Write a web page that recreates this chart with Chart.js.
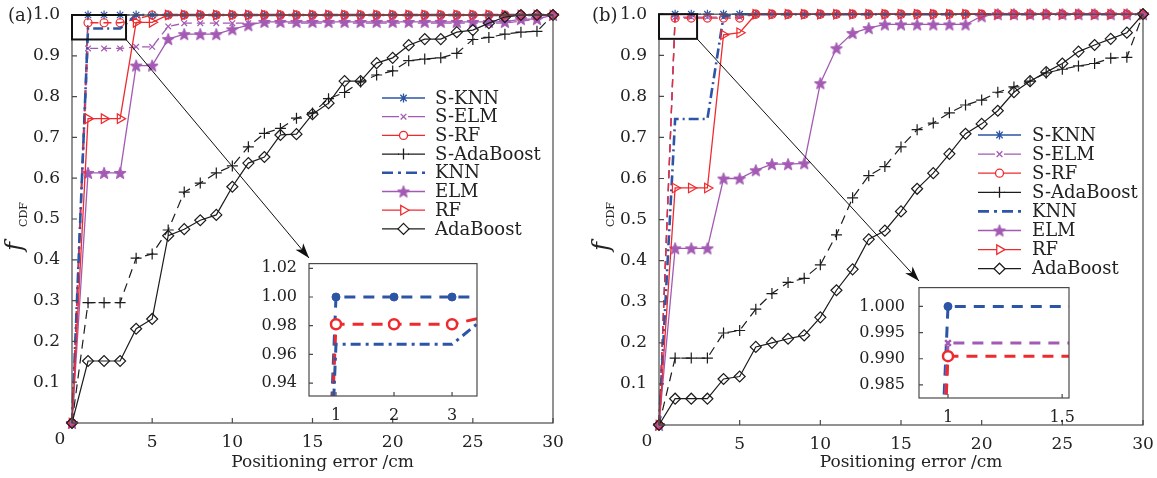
<!DOCTYPE html>
<html>
<head>
<meta charset="utf-8">
<script src="https://cdn.jsdelivr.net/npm/chart.js@4.4.1/dist/chart.umd.min.js"></script>
<style>
  body { margin: 0; background: #fff; }
  .wrap { position: relative; width: 1157px; height: 478px; overflow: hidden; background: #fff; }
  canvas { position: absolute; }
  #chart-a { left: 0; top: 0; }
  #chart-b { left: 587px; top: 0; }
  #inset-a { left: 255px; top: 250px; }
  #inset-b { left: 850px; top: 272px; }
</style>
</head>
<body>
<div class="wrap">
  <canvas id="chart-a" width="578" height="478"></canvas>
  <canvas id="chart-b" width="570" height="478"></canvas>
  <canvas id="inset-a" width="230" height="180"></canvas>
  <canvas id="inset-b" width="230" height="160"></canvas>
</div>
<script>
/////// 라벨 ///////
const seriesNames = ["S-KNN", "S-ELM", "S-RF", "S-AdaBoost", "KNN", "ELM", "RF", "AdaBoost"];
const errorCm = [0, 1, 2, 3, 4, 5, 6, 7, 8, 9, 10, 11, 12, 13, 14, 15, 16, 17, 18, 19, 20, 21, 22, 23, 24, 25, 26, 27, 28, 29, 30];
const xTicks = [0, 5, 10, 15, 20, 25, 30];
const yTicks = [0, 0.1, 0.2, 0.3, 0.4, 0.5, 0.6, 0.7, 0.8, 0.9, 1.0];
const insetAXTicks = [1, 2, 3];
const insetAYTicks = [0.94, 0.96, 0.98, 1.00, 1.02];
const insetBXTicks = [1, 1.5];
const insetBYTicks = [0.985, 0.990, 0.995, 1.000];

/////// 데이터 ///////
// (a)
const a_sknn = [0, 1, 1, 1, 1, 1, 1, 1, 1, 1, 1, 1, 1, 1, 1, 1, 1, 1, 1, 1, 1, 1, 1, 1, 1, 1, 1, 1, 1, 1, 1];
const a_selm = [0, 0.918, 0.918, 0.918, 0.922, 0.922, 0.972, 0.98, 0.98, 0.98, 0.98, 0.98, 0.98, 0.98, 0.98, 0.98, 0.98, 0.98, 0.98, 0.98, 0.98, 0.98, 0.98, 0.98, 0.98, 0.98, 0.98, 0.98, 0.985, 0.99, 1];
const a_srf = [0, 0.981, 0.981, 0.981, 0.99, 1, 1, 1, 1, 1, 1, 1, 1, 1, 1, 1, 1, 1, 1, 1, 1, 1, 1, 1, 1, 1, 1, 1, 1, 1, 1];
const a_sada = [0, 0.295, 0.295, 0.295, 0.404, 0.414, 0.473, 0.566, 0.588, 0.613, 0.63, 0.677, 0.71, 0.722, 0.747, 0.76, 0.795, 0.81, 0.836, 0.853, 0.863, 0.888, 0.892, 0.895, 0.906, 0.94, 0.945, 0.953, 0.958, 0.96, 1];
const a_knn = [0, 0.967, 0.967, 0.967, 1, 1, 1, 1, 1, 1, 1, 1, 1, 1, 1, 1, 1, 1, 1, 1, 1, 1, 1, 1, 1, 1, 1, 1, 1, 1, 1];
const a_elm = [0, 0.613, 0.613, 0.613, 0.876, 0.876, 0.941, 0.953, 0.953, 0.953, 0.965, 0.975, 0.983, 0.983, 0.983, 0.983, 0.983, 0.983, 0.983, 0.983, 0.983, 0.983, 0.983, 0.983, 0.983, 0.983, 0.983, 0.983, 0.99, 0.99, 1];
const a_rf = [0, 0.746, 0.746, 0.746, 0.982, 0.982, 1, 1, 1, 1, 1, 1, 1, 1, 1, 1, 1, 1, 1, 1, 1, 1, 1, 1, 1, 1, 1, 1, 1, 1, 1];
const a_ada = [0, 0.152, 0.152, 0.152, 0.231, 0.255, 0.459, 0.475, 0.497, 0.51, 0.579, 0.637, 0.652, 0.706, 0.708, 0.757, 0.784, 0.838, 0.838, 0.882, 0.895, 0.926, 0.941, 0.941, 0.958, 0.963, 0.98, 0.995, 1, 1, 1];
// (b)
const b_sknn = [0, 1, 1, 1, 1, 1, 1, 1, 1, 1, 1, 1, 1, 1, 1, 1, 1, 1, 1, 1, 1, 1, 1, 1, 1, 1, 1, 1, 1, 1, 1];
const b_selm = [0, 0.993, 0.993, 0.993, 0.993, 0.993, 1, 1, 1, 1, 1, 1, 1, 1, 1, 1, 1, 1, 1, 1, 1, 1, 1, 1, 1, 1, 1, 1, 1, 1, 1];
const b_srf = [0, 0.9905, 0.9905, 0.9905, 0.9905, 0.9905, 1, 1, 1, 1, 1, 1, 1, 1, 1, 1, 1, 1, 1, 1, 1, 1, 1, 1, 1, 1, 1, 1, 1, 1, 1];
const b_sada = [0, 0.163, 0.163, 0.163, 0.224, 0.23, 0.282, 0.32, 0.347, 0.357, 0.39, 0.463, 0.553, 0.607, 0.629, 0.677, 0.719, 0.735, 0.76, 0.779, 0.791, 0.81, 0.823, 0.837, 0.857, 0.866, 0.874, 0.88, 0.893, 0.895, 1];
const b_knn = [0, 0.745, 0.745, 0.745, 0.995, 1, 1, 1, 1, 1, 1, 1, 1, 1, 1, 1, 1, 1, 1, 1, 1, 1, 1, 1, 1, 1, 1, 1, 1, 1, 1];
const b_elm = [0, 0.43, 0.43, 0.43, 0.6, 0.6, 0.62, 0.635, 0.635, 0.637, 0.832, 0.917, 0.954, 0.966, 0.975, 0.975, 0.975, 0.975, 0.975, 0.975, 0.995, 1, 1, 1, 1, 1, 1, 1, 1, 1, 1];
const b_rf = [0, 0.577, 0.577, 0.577, 0.95, 0.955, 1, 1, 1, 1, 1, 1, 1, 1, 1, 1, 1, 1, 1, 1, 1, 1, 1, 1, 1, 1, 1, 1, 1, 1, 1];
const b_ada = [0, 0.064, 0.064, 0.064, 0.112, 0.118, 0.19, 0.2, 0.21, 0.218, 0.262, 0.328, 0.379, 0.452, 0.473, 0.52, 0.575, 0.613, 0.66, 0.709, 0.733, 0.765, 0.81, 0.837, 0.859, 0.88, 0.909, 0.925, 0.94, 0.955, 1];

/////// 스타일 ///////
const FONT = "'DejaVu Serif', serif";
const BLUE = '#2d55a6', PURPLE = '#a35ab3', RED = '#ef2a2f', BLACK = '#1c1c1c', AXIS = '#4a4a4a', TEXT = '#222';

// 오각별 마커 (ELM)
const pentagram = document.createElement('canvas');
pentagram.width = 14;
pentagram.height = 14;
(function () {
    const g = pentagram.getContext('2d');
    g.fillStyle = PURPLE;
    g.strokeStyle = PURPLE;
    g.lineWidth = 1;
    g.beginPath();
    for (let i = 0; i < 10; i++) {
        const r = i % 2 ? 2.7 : 6.3;
        const t = -Math.PI / 2 + i * Math.PI / 5;
        const px = 7 + r * Math.cos(t), py = 7.6 + r * Math.sin(t);
        if (i === 0) g.moveTo(px, py); else g.lineTo(px, py);
    }
    g.closePath();
    g.fill();
    g.stroke();
})();

const styles = [
    { color: BLUE, width: 1.3, dash: [8, 5], legendDash: [17, 9], point: 'star', radius: 4.5 },
    { color: PURPLE, width: 1.3, dash: [8, 5], legendDash: [17, 9], point: 'crossRot', radius: 4 },
    { color: RED, width: 1.3, dash: [8, 5], legendDash: [17, 9], point: 'circle', radius: 4 },
    { color: BLACK, width: 1.2, dash: [9, 6], legendDash: [17, 9], point: 'cross', radius: 5.5 },
    { color: BLUE, width: 2.6, dash: [10, 4, 2, 4], legendDash: [11, 5, 3, 5], point: false, radius: 0 },
    { color: PURPLE, width: 1.3, dash: [], legendDash: [], point: pentagram, radius: 7 },
    { color: RED, width: 1.3, dash: [], legendDash: [], point: 'triangle', radius: 5.5, rotation: 90 },
    { color: BLACK, width: 1.2, dash: [], legendDash: [], point: 'rectRot', radius: 5.5 }
];

// 범례용 마커
function drawMarker(ctx, s, x, y) {
    if (!s.point) return;
    ctx.save();
    ctx.translate(x, y);
    ctx.setLineDash([]);
    ctx.strokeStyle = s.color;
    ctx.fillStyle = '#fff';
    ctx.lineWidth = 1.3;
    if (typeof s.point !== 'string') {
        ctx.drawImage(s.point, -s.point.width / 2, -s.point.height / 2);
        ctx.restore();
        return;
    }
    const r = s.radius;
    const d = r * Math.SQRT1_2;
    ctx.beginPath();
    if (s.point === 'circle') ctx.arc(0, 0, r, 0, Math.PI * 2);
    if (s.point === 'cross' || s.point === 'star') {
        ctx.moveTo(-r, 0); ctx.lineTo(r, 0); ctx.moveTo(0, -r); ctx.lineTo(0, r);
    }
    if (s.point === 'crossRot' || s.point === 'star') {
        ctx.moveTo(-d, -d); ctx.lineTo(d, d); ctx.moveTo(-d, d); ctx.lineTo(d, -d);
    }
    if (s.point === 'triangle') {
        ctx.moveTo(r, 0); ctx.lineTo(-r / 2, -r * 0.866); ctx.lineTo(-r / 2, r * 0.866); ctx.closePath();
    }
    if (s.point === 'rectRot') {
        ctx.moveTo(0, -r); ctx.lineTo(r, 0); ctx.lineTo(0, r); ctx.lineTo(-r, 0); ctx.closePath();
    }
    if (s.point === 'circle' || s.point === 'triangle' || s.point === 'rectRot') ctx.fill();
    ctx.stroke();
    ctx.restore();
}

// 축 박스, 눈금, 확대 박스, 화살표, 범례, 제목
function makeDecor(lay) {
    return {
        id: 'decor',
        afterDatasetsDraw(chart) {
            const { ctx, chartArea: a, scales: { x, y } } = chart;
            ctx.save();
            ctx.setLineDash([]);
            ctx.strokeStyle = AXIS;
            ctx.lineWidth = 1.2;
            ctx.strokeRect(a.left, a.top, a.right - a.left, a.bottom - a.top);
            ctx.beginPath();
            xTicks.forEach(v => {
                const px = x.getPixelForValue(v);
                ctx.moveTo(px, a.bottom); ctx.lineTo(px, a.bottom - 5);
            });
            yTicks.forEach(v => {
                const py = y.getPixelForValue(v);
                ctx.moveTo(a.left, py); ctx.lineTo(a.left + 5, py);
            });
            ctx.stroke();

            const z = lay.zoomBox;
            const zx0 = x.getPixelForValue(z[0]), zx1 = x.getPixelForValue(z[1]);
            const zy0 = y.getPixelForValue(z[3]), zy1 = y.getPixelForValue(z[2]);
            ctx.strokeStyle = '#111';
            ctx.lineWidth = 2;
            ctx.strokeRect(zx0, zy0, zx1 - zx0, zy1 - zy0);

            const tx = lay.arrowTo[0], ty = lay.arrowTo[1];
            ctx.lineWidth = 1;
            ctx.beginPath();
            ctx.moveTo(zx1, zy1);
            ctx.lineTo(tx, ty);
            ctx.stroke();
            const ang = Math.atan2(ty - zy1, tx - zx1), c = Math.cos(ang), s = Math.sin(ang);
            ctx.fillStyle = '#111';
            ctx.beginPath();
            ctx.moveTo(tx, ty);
            ctx.lineTo(tx - 15 * c + 5 * s, ty - 15 * s - 5 * c);
            ctx.lineTo(tx - 11 * c, ty - 11 * s);
            ctx.lineTo(tx - 15 * c - 5 * s, ty - 15 * s + 5 * c);
            ctx.closePath();
            ctx.fill();
            ctx.restore();
        },
        afterDraw(chart) {
            const { ctx, chartArea: a } = chart;
            const lg = lay.legend;
            ctx.save();
            seriesNames.forEach((name, i) => {
                const s = styles[i];
                const yy = lg.y + i * lg.dy;
                ctx.strokeStyle = s.color;
                ctx.lineWidth = s.width;
                ctx.setLineDash(s.legendDash);
                ctx.beginPath();
                ctx.moveTo(lg.x, yy);
                ctx.lineTo(lg.x + lg.len, yy);
                ctx.stroke();
                drawMarker(ctx, s, lg.x + lg.len / 2, yy);
                ctx.fillStyle = TEXT;
                ctx.font = `18px ${FONT}`;
                ctx.textAlign = 'left';
                ctx.textBaseline = 'middle';
                ctx.fillText(name, lg.textX, yy + 1);
            });

            ctx.fillStyle = TEXT;
            ctx.textBaseline = 'middle';
            ctx.textAlign = 'center';
            ctx.font = `17px ${FONT}`;
            ctx.fillText('0', a.left - 12, a.bottom + 17);
            ctx.fillText('Positioning error /cm', (a.left + a.right) / 2 + 10, 463);

            ctx.textAlign = 'left';
            ctx.font = `18px ${FONT}`;
            ctx.fillText(lay.panel, lay.panelAt[0], lay.panelAt[1]);

            ctx.translate(lay.yTitle[0], lay.yTitle[1]);
            ctx.rotate(-Math.PI / 2);
            ctx.textBaseline = 'alphabetic';
            ctx.font = `italic 24px ${FONT}`;
            ctx.fillText('f', 0, 0);
            ctx.font = `11px ${FONT}`;
            ctx.fillText('CDF', 24, 5);
            ctx.restore();
        }
    };
}

function makeMainConfig(series, lay) {
    return {
        type: 'line',
        data: {
            datasets: series.map((vals, i) => ({
                label: seriesNames[i],
                data: errorCm.map((x, k) => ({ x: x, y: vals[k] })),
                borderColor: styles[i].color,
                borderWidth: styles[i].width,
                borderDash: styles[i].dash,
                pointStyle: styles[i].point,
                pointRadius: styles[i].radius,
                pointRotation: styles[i].rotation || 0,
                pointBorderColor: styles[i].color,
                pointBackgroundColor: 'rgba(255,255,255,0)',
                pointBorderWidth: 1.2,
                fill: false,
                tension: 0,
                order: 10 - i,
                clip: 8
            }))
        },
        options: {
            responsive: false,
            animation: false,
            devicePixelRatio: 1,
            events: [],
            layout: { padding: { top: lay.padTop, right: lay.padRight, left: 0, bottom: 0 } },
            plugins: { legend: { display: false }, tooltip: { enabled: false } },
            scales: {
                x: {
                    type: 'linear',
                    min: 0,
                    max: 30,
                    afterBuildTicks: s => { s.ticks = xTicks.map(v => ({ value: v })); },
                    afterFit: s => { s.height = lay.xAxisH; },
                    grid: { display: false },
                    border: { display: false },
                    ticks: {
                        padding: 1, color: TEXT, maxRotation: 0, autoSkip: false,
                        font: { family: FONT, size: 17 },
                        callback: v => v === 0 ? '' : String(v)
                    }
                },
                y: {
                    min: 0,
                    max: 1,
                    afterBuildTicks: s => { s.ticks = yTicks.map(v => ({ value: v })); },
                    afterFit: s => { s.width = 72; },
                    grid: { display: false },
                    border: { display: false },
                    ticks: {
                        padding: 4, color: TEXT, autoSkip: false,
                        font: { family: FONT, size: 17 },
                        callback: v => v === 0 ? '' : v.toFixed(1)
                    }
                }
            }
        },
        plugins: [makeDecor(lay)]
    };
}

// 확대 그래프
function insetFrame(lay) {
    return {
        id: 'insetFrame',
        beforeDatasetsDraw(chart) {
            const { ctx, chartArea: a } = chart;
            ctx.save();
            ctx.fillStyle = '#fff';
            ctx.fillRect(a.left, a.top, a.right - a.left, a.bottom - a.top);
            ctx.restore();
        },
        afterDatasetsDraw(chart) {
            const { ctx, chartArea: a, scales: { x, y } } = chart;
            ctx.save();
            ctx.setLineDash([]);
            ctx.strokeStyle = AXIS;
            ctx.lineWidth = 1.2;
            ctx.strokeRect(a.left, a.top, a.right - a.left, a.bottom - a.top);
            ctx.beginPath();
            lay.xTicks.forEach(v => {
                const px = x.getPixelForValue(v);
                ctx.moveTo(px, a.bottom); ctx.lineTo(px, a.bottom - 4);
            });
            lay.yTicks.forEach(v => {
                const py = y.getPixelForValue(v);
                ctx.moveTo(a.left, py); ctx.lineTo(a.left + 4, py);
            });
            ctx.stroke();
            ctx.restore();
        }
    };
}

function makeInsetConfig(sets, lay) {
    return {
        type: 'line',
        data: {
            datasets: sets.map((d, i) => ({
                data: errorCm.map((x, k) => ({ x: x, y: d.vals[k] })),
                borderColor: d.color,
                borderWidth: 3,
                borderDash: d.dash,
                pointStyle: d.point,
                pointRadius: d.radius,
                pointBorderColor: d.color,
                pointBackgroundColor: d.fill,
                pointBorderWidth: d.pointWidth,
                fill: false,
                tension: 0,
                order: 10 - i,
                clip: 0
            }))
        },
        options: {
            responsive: false,
            animation: false,
            devicePixelRatio: 1,
            events: [],
            layout: { padding: { top: lay.padTop, right: lay.padRight, left: 0, bottom: 0 } },
            plugins: { legend: { display: false }, tooltip: { enabled: false } },
            scales: {
                x: {
                    type: 'linear',
                    min: lay.xRange[0],
                    max: lay.xRange[1],
                    afterBuildTicks: s => { s.ticks = lay.xTicks.map(v => ({ value: v })); },
                    afterFit: s => { s.height = lay.xAxisH; },
                    grid: { display: false },
                    border: { display: false },
                    ticks: {
                        padding: lay.xPad, color: TEXT, maxRotation: 0, autoSkip: false,
                        font: { family: FONT, size: 16 },
                        callback: v => String(v)
                    }
                },
                y: {
                    min: lay.yRange[0],
                    max: lay.yRange[1],
                    afterBuildTicks: s => { s.ticks = lay.yTicks.map(v => ({ value: v })); },
                    afterFit: s => { s.width = lay.yAxisW; },
                    grid: { display: false },
                    border: { display: false },
                    ticks: {
                        padding: lay.yPad, color: TEXT, autoSkip: false,
                        font: { family: FONT, size: 16 },
                        callback: v => v.toFixed(lay.digits)
                    }
                }
            }
        },
        plugins: [insetFrame(lay)]
    };
}

/////// 차트 생성 ///////
const chartA = new Chart(document.getElementById('chart-a'), makeMainConfig(
    [a_sknn, a_selm, a_srf, a_sada, a_knn, a_elm, a_rf, a_ada],
    {
        padTop: 15, padRight: 25, xAxisH: 55,
        zoomBox: [0, 3.37, 0.94, 1.0], arrowTo: [309, 258],
        legend: { x: 382, y: 98, dy: 18.7, len: 43, textX: 435 },
        yTitle: [22, 251], panel: '(a)', panelAt: [8, 16]
    }
));

const chartB = new Chart(document.getElementById('chart-b'), makeMainConfig(
    [b_sknn, b_selm, b_srf, b_sada, b_knn, b_elm, b_rf, b_ada],
    {
        padTop: 13, padRight: 14, xAxisH: 53,
        zoomBox: [0, 2.36, 0.94, 1.0], arrowTo: [332, 281],
        legend: { x: 391, y: 135, dy: 19.1, len: 43, textX: 445 },
        yTitle: [22, 251], panel: '(b)', panelAt: [5, 16]
    }
));

const insetA = new Chart(document.getElementById('inset-a'), makeInsetConfig(
    [
        { vals: a_sknn, color: BLUE, dash: [11, 8], point: 'circle', radius: 4, fill: BLUE, pointWidth: 1 },
        { vals: a_srf, color: RED, dash: [11, 8], point: 'circle', radius: 5, fill: '#fff', pointWidth: 2.5 },
        { vals: a_knn, color: BLUE, dash: [10, 5, 3, 5], point: false, radius: 0, fill: BLUE, pointWidth: 1 }
    ],
    {
        padTop: 8, padRight: 8, xAxisH: 34, yAxisW: 54,
        xRange: [0.535, 3.43], yRange: [0.931, 1.0233],
        xTicks: insetAXTicks, yTicks: insetAYTicks, digits: 2, xPad: 2, yPad: 4
    }
));

const insetB = new Chart(document.getElementById('inset-b'), makeInsetConfig(
    [
        { vals: b_sknn, color: BLUE, dash: [11, 8], point: 'circle', radius: 4, fill: BLUE, pointWidth: 1 },
        { vals: b_selm, color: PURPLE, dash: [11, 8], point: 'crossRot', radius: 4, fill: PURPLE, pointWidth: 2.5 },
        { vals: b_srf, color: RED, dash: [11, 8], point: 'circle', radius: 5, fill: '#fff', pointWidth: 2.5 }
    ],
    {
        padTop: 9, padRight: 11, xAxisH: 34, yAxisW: 69,
        xRange: [0.873, 1.53], yRange: [0.9825, 1.0036],
        xTicks: insetBXTicks, yTicks: insetBYTicks, digits: 3, xPad: 2, yPad: 6
    }
));
</script>
</body>
</html>
